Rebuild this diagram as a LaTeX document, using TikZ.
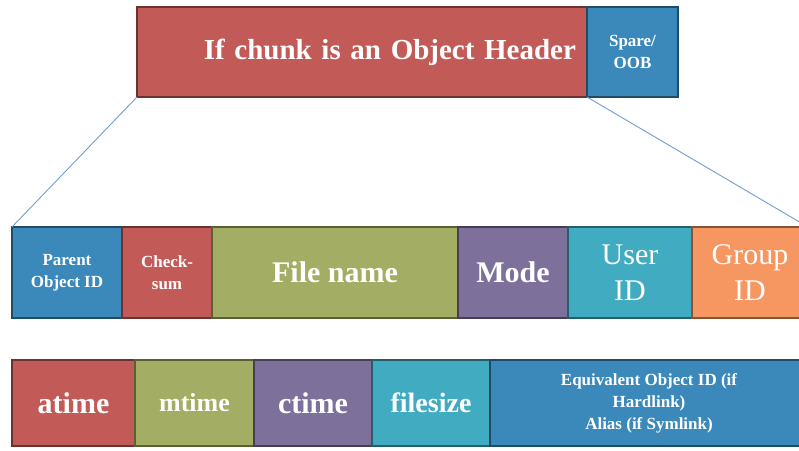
\documentclass[tikz,border=0pt]{standalone}
\usepackage{fontspec}
\setmainfont{Liberation Serif}
\usetikzlibrary{positioning}

\definecolor{hdrred}{HTML}{C25B58}
\definecolor{idblue}{HTML}{3A89BA}
\definecolor{olive}{HTML}{A3AD63}
\definecolor{modepurple}{HTML}{7D719B}
\definecolor{aqua}{HTML}{41ACC1}
\definecolor{grporange}{HTML}{F69661}
\definecolor{linkblue}{HTML}{6F9FD0}

\begin{document}
\begin{tikzpicture}[
    x=1pt, y=-1pt,
    field/.style={draw=#1!55!black, fill=#1, line width=2.5pt, outer sep=0pt,
        inner sep=0pt, text=white, align=center,
        font=\bfseries\fontsize{17}{22}\selectfont},
    bigtext/.style={font=\bfseries\fontsize{30}{36}\selectfont},
    thintext/.style={font=\fontsize{30}{36}\selectfont},
    link/.style={draw=linkblue, line width=0.9pt}
]
    \useasboundingbox (0,0) rectangle (799,450);
    \clip (0,0) rectangle (799,450);

    % --- Chunk ---
    \node[field=hdrred, minimum width=450pt, minimum height=90pt,
        text width=428pt, align=right, font=\bfseries\fontsize{29}{34}\selectfont]
        (hdr) at (362,52) {If chunk is an Object Header};
    \node[field=idblue, minimum width=91pt, minimum height=90pt, right=0pt of hdr]
        (spare) {Spare/\\OOB};

    % --- Object header fields ---
    \node[field=idblue, minimum width=110pt, minimum height=91pt]
        (parent) at (67,272.5) {Parent\\Object ID};
    \node[field=hdrred, minimum width=90pt, minimum height=91pt, right=0pt of parent]
        (check) {Check-\\sum};
    \node[field=olive, minimum width=246pt, minimum height=91pt, right=0pt of check, bigtext]
        (fname) {File name};
    \node[field=modepurple, minimum width=110pt, minimum height=91pt, right=0pt of fname, bigtext]
        (mode) {Mode};
    \node[field=aqua, minimum width=124pt, minimum height=91pt, right=0pt of mode, thintext]
        (uid) {User\\ID};
    \node[field=grporange, minimum width=116pt, minimum height=91pt, right=0pt of uid, thintext]
        (gid) {Group\\ID};

    % --- Times and size ---
    \node[field=hdrred, minimum width=123pt, minimum height=86pt, bigtext]
        (atime) at (73.5,403) {atime};
    \node[field=olive, minimum width=119pt, minimum height=86pt, right=0pt of atime,
        font=\bfseries\fontsize{26}{30}\selectfont]
        (mtime) {mtime};
    \node[field=modepurple, minimum width=118pt, minimum height=86pt, right=0pt of mtime, bigtext]
        (ctime) {ctime};
    \node[field=aqua, minimum width=118pt, minimum height=86pt, right=0pt of ctime,
        font=\bfseries\fontsize{28}{32}\selectfont]
        (fsize) {filesize};
    \node[field=idblue, minimum width=318pt, minimum height=86pt, right=0pt of fsize]
        (equiv) {Equivalent Object ID (if\\Hardlink)\\Alias (if Symlink)};

    % --- Zoom lines ---
    \draw[link] (hdr.south west) -- (parent.north west);
    \draw[link] (hdr.south east) -- (gid.north east);

\end{tikzpicture}
\end{document}
